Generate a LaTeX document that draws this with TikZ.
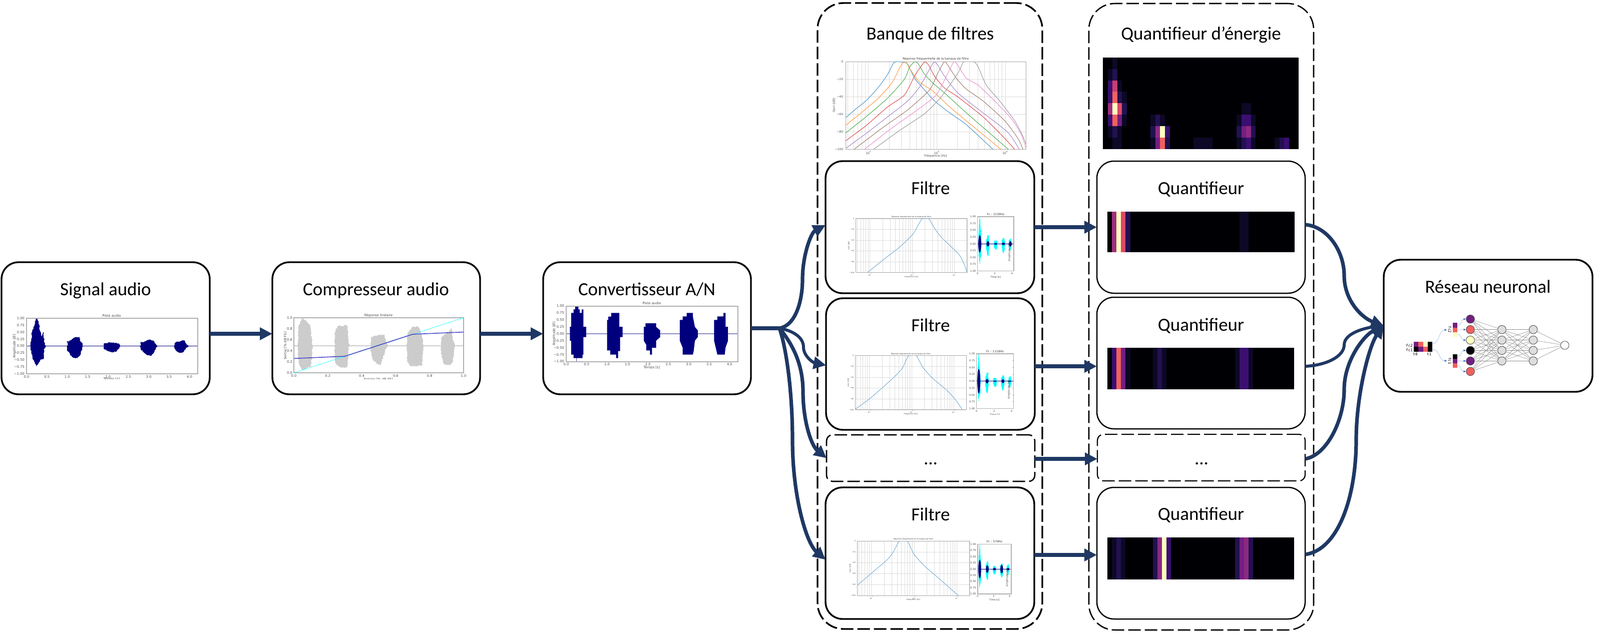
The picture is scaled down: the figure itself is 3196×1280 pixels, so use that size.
\documentclass[tikz,border=0pt]{standalone}
\usepackage{fontspec}
\setmainfont{Carlito}
\newfontfamily\mplfont{DejaVu Sans}
\newfontfamily\monof{DejaVu Sans Mono}
\usetikzlibrary{arrows.meta,decorations.pathmorphing}
\definecolor{conn}{HTML}{1F3864}
\definecolor{mA}{HTML}{0C0826}\definecolor{mB}{HTML}{221150}\definecolor{mC}{HTML}{3B0F70}
\definecolor{mD}{HTML}{721F81}\definecolor{mE}{HTML}{8C2981}\definecolor{mF}{HTML}{9E2F7F}
\definecolor{mG}{HTML}{C83E73}\definecolor{mH}{HTML}{DE4968}\definecolor{mI}{HTML}{F1605D}
\definecolor{mJ}{HTML}{FCFDBF}\definecolor{mK}{HTML}{000004}
\definecolor{wavenavy}{HTML}{00007F}\definecolor{wavecyan}{HTML}{00FFFF}
\definecolor{axg}{HTML}{B0B0B0}\definecolor{gridc}{HTML}{DCDCDC}
\definecolor{tabA}{HTML}{4C93C4}\definecolor{tabB}{HTML}{FF9A3C}\definecolor{tabC}{HTML}{4CAF4C}
\definecolor{tabD}{HTML}{DC4A4A}\definecolor{tabE}{HTML}{A585C8}\definecolor{tabF}{HTML}{A17A70}
\definecolor{tabG}{HTML}{E98FD0}\definecolor{tabH}{HTML}{999999}
\definecolor{nnblue}{HTML}{4472C4}\definecolor{nnsoft}{HTML}{A9C4E8}
\tikzset{
 bx/.style={draw=black,fill=white,rounded corners=17pt,line width=1.7pt,outer sep=0pt,inner sep=0pt,minimum width=208pt,minimum height=132pt},
 qbx/.style={bx,line width=1.25pt},
 dashbx/.style={draw=black,rounded corners=26pt,line width=1.7pt,outer sep=0pt,inner sep=0pt,dash pattern=on 12.5pt off 4pt},
 dotbx/.style={draw=black,fill=white,rounded corners=6pt,line width=1.3pt,outer sep=0pt,inner sep=0pt,dash pattern=on 12.5pt off 4pt,minimum width=208pt,minimum height=46.5pt},
 title/.style={font=\fontsize{18.5}{20}\selectfont,inner sep=0pt,anchor=base},
 link/.style={draw=conn,line width=3.6pt,-{Triangle[length=12.5pt,width=12pt]}},
 stem/.style={draw=conn,line width=3.6pt},
 tick/.style={inner sep=0pt,font=\mplfont\fontsize{3.4}{4}\selectfont,text=black!70},
 axis/.style={draw=axg,line width=1pt},
 nncirc/.style={circle,draw=black!70,line width=.45pt,minimum size=8.3pt,inner sep=0pt,outer sep=0pt},
 nnedge/.style={draw=black!45,line width=.3pt},
 nnarrow/.style={draw=nnsoft,line width=.4pt,-{Latex[length=2.6pt,width=2.4pt,color=nnblue]}},
 cv/.style={line width=.5pt},
 rough/.style={decorate,decoration={random steps,segment length=1.1pt,amplitude=.55pt}},
 roughsm/.style={decorate,decoration={random steps,segment length=.9pt,amplitude=.3pt}},
}
\newcommand\sigwave{
 (.1,.05)--(.12,.2)--(.13,.5)--(.17,.65)--(.2,.8)--(.23,1)--(.27,1)--(.3,.8)--(.33,.55)--(.36,.38)--(.38,.35)--(.4,.5)--(.42,.5)--(.43,.15)--(.47,.02)--(.47,-.02)--(.43,-.1)--(.42,-.47)--(.38,-.48)--(.34,-.5)--(.3,-.6)--(.27,-.68)--(.24,-.74)--(.22,-.65)--(.18,-.55)--(.14,-.38)--(.12,-.2)--(.1,-.05)--cycle
 (1,.17)--(1.05,.17)--(1.12,.25)--(1.2,.32)--(1.3,.32)--(1.33,.15)--(1.38,.05)--(1.38,-.03)--(1.34,-.2)--(1.3,-.36)--(1.25,-.44)--(1.15,-.42)--(1.08,-.34)--(1.02,-.2)--(1,-.17)--cycle
 (1.9,.1)--(2,.12)--(2.2,.12)--(2.27,.08)--(2.3,0)--(2.27,-.1)--(2.2,-.2)--(2.1,-.22)--(2,-.18)--(1.9,-.1)--cycle
 (2.8,.15)--(2.85,.14)--(2.95,.2)--(3.05,.23)--(3.12,.18)--(3.18,.05)--(3.22,0)--(3.18,-.05)--(3.12,-.25)--(3.05,-.35)--(2.95,-.32)--(2.85,-.2)--(2.8,-.1)--cycle
 (3.63,.08)--(3.67,.15)--(3.75,.15)--(3.85,.2)--(3.88,.2)--(3.93,.05)--(3.98,0)--(3.93,-.05)--(3.85,-.22)--(3.75,-.24)--(3.68,-.18)--(3.63,-.08)--cycle
}
\newcommand\adcwave{
 (.09,.25)--(.12,.25)--(.12,.75)--(.18,.75)--(.18,.875)--(.22,.875)--(.22,1)--(.3,1)--(.3,.875)--(.33,.875)--(.33,.75)--(.38,.75)--(.38,.875)--(.42,.875)--(.42,.25)--(.49,.25)--(.49,-.12)--(.42,-.12)--(.42,-.75)--(.4,-.75)--(.4,-.875)--(.26,-.875)--(.26,-1)--(.25,-1)--(.25,-.875)--(.18,-.875)--(.18,-.75)--(.12,-.75)--(.12,-.25)--(.09,-.25)--cycle
 (1,.5)--(1.03,.5)--(1.03,.62)--(1.1,.62)--(1.1,.75)--(1.3,.75)--(1.3,.25)--(1.38,.25)--(1.38,-.12)--(1.32,-.12)--(1.32,-.625)--(1.27,-.625)--(1.27,-.875)--(1.22,-.875)--(1.22,-.75)--(1.08,-.75)--(1.08,-.6)--(1,-.6)--cycle
 (1.9,.25)--(1.94,.25)--(1.94,.375)--(2.2,.375)--(2.2,.25)--(2.3,.12)--(2.3,-.12)--(2.2,-.25)--(2.2,-.5)--(2.1,-.5)--(2.1,-.75)--(2.05,-.75)--(2.05,-.6)--(1.96,-.6)--(1.96,-.4)--(1.9,-.25)--cycle
 (2.78,.5)--(2.85,.5)--(2.85,.625)--(2.95,.625)--(2.95,.75)--(3.1,.75)--(3.1,.625)--(3.15,.25)--(3.22,.12)--(3.22,-.12)--(3.15,-.25)--(3.12,-.625)--(3.1,-.75)--(2.85,-.75)--(2.85,-.5)--(2.78,-.25)--cycle
 (3.62,.5)--(3.7,.5)--(3.7,.625)--(3.85,.625)--(3.85,.75)--(3.9,.75)--(3.9,.25)--(3.96,.25)--(3.96,-.25)--(3.9,-.5)--(3.88,-.75)--(3.7,-.75)--(3.66,-.5)--(3.62,-.25)--cycle
}
\newcommand\waveaxes[1]{
 \draw[axis] (0,-1) rectangle (4.2,1);
 \foreach \v/\l [count=\n] in {1/1.00,.75/0.75,.5/0.50,.25/0.25,0/0.00,-.25/−0.25,-.5/−0.50,-.75/−0.75,-1/−1.00}
   \node[tick,anchor=east] (#1y\n) at (-.045,\v) {\l};
 \foreach \v/\l [count=\n] in {0/0.0,.5/0.5,1/1.0,1.5/1.5,2/2.0,2.5/2.5,3/3.0,3.5/3.5,4/4.0}
   \node[tick] (#1x\n) at (\v,-1.105) {\l};
}
% frequency-response axes: name,x0,x1,y0,y1,fontsize,grid width
\newcommand\lplot[7]{
 \pgfmathsetmacro\pW{#3-#2}\pgfmathsetmacro\pH{#5-#4}
 \foreach \lg in {1.699,1.778,1.845,1.903,1.954,2,2.301,2.477,2.602,2.699,2.778,2.845,2.903,2.954,3,3.301,3.477,3.602,3.699,3.778,3.845,3.903,3.954,4,4.301}{
   \pgfmathsetmacro\gx{#2+(\lg-1.664)/2.636*\pW}
   \draw[gridc,line width=#7] (\gx,#4)--(\gx,#5);}
 \foreach \v [count=\n] in {0,20,40,60,80,100}{
   \pgfmathsetmacro\gy{#4+\pH*(\v/100)}
   \draw[gridc,line width=#7] (#2,\gy)--(#3,\gy);
   \node[inner sep=0pt,anchor=east,font=\mplfont\fontsize{#6}{#6}\selectfont,text=black!70] (#1y\n) at ({#2-1.5*#6},\gy) {\ifnum\v=0 0\else −\v\fi};}
 \foreach \e in {2,3,4}{
   \pgfmathsetmacro\gx{#2+(\e-1.664)/2.636*\pW}
   \node[inner sep=0pt,font=\mplfont\fontsize{#6}{#6}\selectfont,text=black!70] (#1x\e) at (\gx,{#5+2.3*#6}) {10\textsuperscript{\e}};}
 \pgfmathsetmacro\cx{(#2+#3)/2}
 \node[inner sep=0pt,font=\mplfont\fontsize{#6}{#6}\selectfont,text=black!75] (#1t) at (\cx,{#4-1.9*#6}) {Réponse fréquentielle de la banque de filtre};
 \node[inner sep=0pt,font=\mplfont\fontsize{#6}{#6}\selectfont,text=black!70] (#1xl) at (\cx,{#5+4.7*#6}) {Fréquence [Hz]};
 \pgfmathsetmacro\cy{(#4+#5)/2}
 \node[inner sep=0pt,rotate=90,font=\mplfont\fontsize{#6}{#6}\selectfont,text=black!70] (#1yl) at ({#2-7.7*#6},\cy) {Gain [dB]};
 \draw[draw=black!35,line width=.4pt] (#2,#4) rectangle (#3,#5);
}
\newcommand\lcurve[5]{
 \pgfmathsetmacro\pW{(#2-#1)*.5}\pgfmathsetmacro\pH{(#4-#3)*.5}
 \begin{scope}[shift={(#1,#3)},x=\pW pt,y=-\pH pt]
  \clip (0,0) rectangle (1,1);
  \draw[tabA!75,line width=.5pt] plot[smooth,tension=.45] coordinates {#5};
 \end{scope}
}
\newcommand\rplot[8]{
 \pgfmathsetmacro\pW{(#3-#2)*.5/4.2}\pgfmathsetmacro\pH{(#5-#4)*.25}
 \pgfmathsetmacro\mY{(#4+#5)/2}\pgfmathsetmacro\cX{(#2+#3)/2}
 \foreach \k in {0,...,6}{\pgfmathsetmacro\gy{#4+(#5-#4)*(\k+1)/8}\draw[black!60,line width=.5pt] (#3,\gy)--(#3-1,\gy);}
 \begin{scope}
  \clip (#2,#5+1) rectangle (#3,#4);
  \begin{scope}[shift={(#2,\mY)},x=\pW pt,y=\pH pt]
   \fill[wavecyan,roughsm] \sigwave;
   \foreach \t/\a in {#7}{\fill[wavenavy] (\t,0) ellipse [x radius=.17,y radius=\a];}
   \draw[wavenavy,line width=.5pt] (0,0)--(4.2,0);
  \end{scope}
 \end{scope}
 \draw[axis,line width=.6pt] (#2,#4) rectangle (#3,#5);
 \foreach \l [count=\n] in {1.00,0.75,0.50,0.25,0.00,0.25,0.50,0.75,1.00}{
   \pgfmathsetmacro\gy{#4+(#5-#4)*(\n-1)/8}
   \node[inner sep=0pt,anchor=east,font=\mplfont\fontsize{2.5}{3}\selectfont,text=black!75] (#1y\n) at (#2-3,\gy) {\l};}
 \foreach \v in {0,2,4}{
   \pgfmathsetmacro\gx{#2+(#3-#2)*\v/4.2}
   \node[inner sep=0pt,font=\mplfont\fontsize{2.5}{3}\selectfont,text=black!75] (#1x\v) at (\gx,#5+5) {\v};}
 \node[inner sep=0pt,font=\mplfont\fontsize{2.9}{3}\selectfont,text=black!80] (#1t) at (\cX,#4-5) {#6};
 \node[inner sep=0pt,rotate=90,font=\mplfont\fontsize{2.6}{3}\selectfont,text=black!70] (#1ov) at ({#2+(#3-#2)*.88},\mY+17) {Amplitude [Ø]};
 \begin{scope}
  \clip (#2-20,#5+5) rectangle (#3+20,#8);
  \node[inner sep=0pt,font=\mplfont\fontsize{2.5}{3}\selectfont,text=black!75] (#1xl) at (\cX,#5+12) {Time [s]};
 \end{scope}
}
\newcommand\stripmap[5]{
 \fill[mK] (#1,#2) rectangle (#3,#4);
 \foreach \c/\k in {#5}{\fill[\k] ({#1+\c*9.1},#2) rectangle ({#1+(\c+1)*9.1},#4);}
}
\begin{document}
\begin{tikzpicture}[x=.5pt,y=-.5pt]
\useasboundingbox (0,0) rectangle (3196,1280);
\fill[white] (0,0) rectangle (3196,1280);
% containers
\node[dashbx,minimum width=224.5pt,minimum height=625.5pt] (bank) at (1857.5,631.5) {};
\node[dashbx,line width=1.3pt,minimum width=224.5pt,minimum height=626pt] (quant) at (2399.5,633) {};
% boxes
\node[bx] (sig) at (211,656) {};
\node[bx,minimum width=207.5pt] (comp) at (751.5,656) {};
\node[bx,minimum width=207.5pt] (conv) at (1292.5,656) {};
\node[bx,minimum width=208.5pt] (net) at (2972.5,651) {};
\node[bx,minimum width=208.5pt] (f1) at (1857.5,454) {};
\node[bx,minimum width=208.5pt,minimum height=131.5pt] (f2) at (1858.5,727.5) {};
\node[dotbx] (fd) at (1859,915.5) {};
\node[bx,minimum width=208.5pt,minimum height=131.5pt] (f3) at (1857.5,1105.5) {};
\node[qbx] (q1) at (2399,454) {};
\node[qbx,minimum height=131.5pt] (q2) at (2399,725.5) {};
\node[dotbx,line width=1.1pt,minimum width=207.5pt] (qd) at (2399.5,914.5) {};
\node[qbx,minimum height=131.5pt] (q3) at (2399,1105.5) {};
% titles
\node[title] (tsig) at (211,590) {Signal audio};
\node[title] (tcomp) at (751,590) {Compresseur audio};
\node[title] (tconv) at (1292,590) {Convertisseur A/N};
\node[title] (tnet) at (2972,585) {Réseau neuronal};
\node[title] (tbank) at (1858,79) {Banque de filtres};
\node[title] (tquant) at (2399,79) {Quantifieur d’énergie};
\node[title] (tf1) at (1859,388) {Filtre};
\node[title] (tf2) at (1859,662) {Filtre};
\node[title] (tf3) at (1859,1040) {Filtre};
\node[title] (tfd) at (1859,928) {...};
\node[title] (tq1) at (2399,388) {Quantifieur};
\node[title] (tq2) at (2399,661) {Quantifieur};
\node[title] (tq3) at (2399,1039) {Quantifieur};
\node[title] (tqd) at (2400,928) {...};
% ---- signal plot
\begin{scope}[shift={(53,691.5)},x=40.7pt,y=27.65pt]
 \fill[wavenavy,rough] \sigwave;
 \draw[wavenavy,line width=.7pt] (0,0)--(4.2,0);
 \waveaxes{sa}
\end{scope}
\node[tick] (sat) at (223,631) {Piste audio};
\node[tick,rotate=90] (sayl) at (29,692) {Amplitude [Ø]};
\begin{scope}
 \clip (100,754.5) rectangle (350,757.5);
 \node[tick] (saxl) at (223,758) {Temps [s]};
\end{scope}
% ---- compressor plot
\begin{scope}[shift={(540,510)},x=.3125pt,y=-.16667pt]
 \draw[black!20,line width=1pt] (75,543)--(618,543);
 \fill[black!20,rough] (88,540)--(90,425)--(100,385)--(105,378)--(115,395)--(128,425)--(132,500)--(135,540)--(135,545)--(130,665)--(110,685)--(100,685)--(90,640)--(88,560)--cycle
 (206,540)--(207,460)--(215,425)--(245,420)--(248,480)--(250,530)--(258,543)--(250,550)--(247,670)--(235,675)--(215,665)--(207,640)--(206,560)--cycle
 (320,540)--(322,490)--(345,480)--(365,475)--(370,520)--(377,543)--(370,560)--(352,660)--(340,650)--(325,620)--(320,570)--cycle
 (436,540)--(438,470)--(455,428)--(475,430)--(485,490)--(490,543)--(485,660)--(450,668)--(438,640)--(436,560)--cycle
 (545,540)--(548,490)--(570,460)--(580,430)--(583,500)--(590,540)--(583,640)--(575,660)--(555,655)--(547,610)--cycle;
\end{scope}
\begin{scope}[shift={(587,745)},x=169.5pt,y=55pt]
 \draw[axis,line width=.6pt] (0,0) rectangle (1,1);
 \draw[wavecyan,line width=.8pt,densely dotted] (0,0)--(1,1);
 \draw[black!30!blue!70,line width=.8pt] (0,.26)--(.3,.3)--(.7,.7)--(1,.74);
 \foreach \v [count=\n] in {0.0,0.2,0.4,0.6,0.8,1.0}{
  \node[tick,anchor=east] (cpy\n) at (-.008,\v) {\v};
  \node[tick] (cpx\n) at (\v,-.055) {\v};}
\end{scope}
\node[tick] (cpt) at (756,630) {Réponse linéaire};
\node[tick,rotate=90] (cpyl) at (570,691) {Sortie [\% dB FS]};
\begin{scope}
 \clip (650,754.5) rectangle (860,757.5);
 \node[tick] (cpxl) at (756,758) {Entrée [\% dB FS]};
\end{scope}
% ---- ADC plot
\begin{scope}[shift={(1131,667)},x=40.8pt,y=27.75pt]
 \draw[wavenavy!45,line width=1.1pt] (0,0)--(4.2,0);
 \fill[wavenavy] \adcwave;
 \waveaxes{ad}
\end{scope}
\node[tick] (adt) at (1302,606) {Piste audio};
\node[tick,rotate=90] (adyl) at (1107,667) {Amplitude [Ø]};
\node[tick] (adxl) at (1302,735) {Temps [s]};
% ---- bank plot
\lplot{bk}{1689}{2049}{123}{298}{3}{.5pt}
\begin{scope}[shift={(1630,0)},x=.16667pt,y=-.19763pt]
 \clip (178,312) rectangle (1258,755);
 \draw[tabA,cv] plot[smooth,tension=.4] coordinates {(178,595)(240,550)(305,505)(375,440)(430,375)(465,318)(495,312)(530,316)(550,325)(590,395)(640,445)(710,510)(800,570)(900,630)(1060,755)};
 \draw[tabB,cv] plot[smooth,tension=.4] coordinates {(178,634)(300,550)(375,495)(430,445)(465,405)(500,345)(525,314)(540,312)(560,345)(620,415)(700,460)(800,540)(1000,680)(1108,755)};
 \draw[tabC,cv] plot[smooth,tension=.4] coordinates {(178,672)(300,590)(430,495)(530,400)(560,340)(590,313)(610,320)(650,375)(700,420)(770,470)(900,570)(1050,680)(1152,755)};
 \draw[tabD,cv] plot[smooth,tension=.4] coordinates {(178,712)(300,635)(430,540)(530,480)(590,385)(625,340)(652,313)(675,330)(710,385)(770,445)(850,490)(1000,590)(1120,690)(1190,755)};
 \draw[tabE,cv] plot[smooth,tension=.4] coordinates {(178,750)(300,675)(430,590)(550,510)(620,440)(680,350)(708,313)(730,330)(770,385)(850,470)(1000,570)(1150,670)(1218,755)};
 \draw[tabF,cv] plot[smooth,tension=.4] coordinates {(228,755)(400,645)(550,555)(680,455)(730,370)(768,313)(790,330)(840,395)(900,450)(1000,510)(1130,610)(1210,700)(1240,755)};
 \draw[tabG,cv] plot[smooth,tension=.4] coordinates {(290,755)(450,650)(600,560)(720,480)(790,370)(826,313)(850,330)(900,395)(970,430)(1070,510)(1170,600)(1230,680)(1258,750)};
 \draw[tabH,cv] plot[smooth,tension=.4] coordinates {(345,755)(500,660)(650,575)(750,490)(850,370)(885,313)(945,313)(970,335)(1020,430)(1100,510)(1190,610)(1240,690)(1258,730)};
\end{scope}
% ---- filters
\lplot{fa}{1709.3}{1931.7}{436.8}{544.7}{1.8}{.25pt}
\lcurve{1709.3}{1931.7}{436.8}{544.7}{(.105,1)(.243,.77)(.393,.53)(.513,.29)(.558,.128)(.595,.007)(.61,0)(.655,0)(.693,.128)(.753,.31)(.843,.495)(.933,.68)(.977,.86)(1,1)}
\rplot{ra}{1952.7}{2025}{433}{541.6}{Fc : 2159Hz}{.25/.32,1.2/.1,2.1/.03,3/.05,3.8/.1}{560}
\lplot{fb}{1708.3}{1930.3}{710.4}{818.8}{1.8}{.25pt}
\lcurve{1708.3}{1930.3}{710.4}{818.8}{(0,.99)(.128,.8)(.248,.588)(.368,.362)(.428,.218)(.465,.053)(.488,0)(.548,0)(.608,.218)(.698,.424)(.818,.63)(.893,.794)(.961,.99)}
\rplot{rb}{1950.7}{2024.3}{707}{816.6}{Fc : 1118Hz}{.25/.45,1.2/.08,2.1/.02,3/.07,3.8/.02}{828.5}
\lplot{fc}{1712}{1936.7}{1081}{1190}{1.8}{.25pt}
\lcurve{1712}{1936.7}{1081}{1190}{(0,.816)(.123,.6)(.272,.336)(.324,.193)(.361,.05)(.38,0)(.443,0)(.473,.11)(.51,.254)(.6,.459)(.748,.725)(.899,1)}
\rplot{rc}{1953}{2020}{1087.6}{1187}{Fc : 579Hz}{.25/.37,1.2/.15,2.1/.05,3/.17,3.8/.05}{1210}
% ---- big heatmap
\fill[mK] (2203,115) rectangle (2594,297.6);
\begin{scope}[shift={(2203,115)},x=4.768pt,y=-11.41pt]
 \foreach \c/\r/\k in {2/0/mA,2/1/mB,2/2/mG,2/3/mI,2/4/mJ,2/5/mI,2/6/mB,2/7/mA,1/1/mA,1/2/mC,1/3/mC,1/4/mF,1/5/mC,1/6/mA,3/2/mA,3/3/mB,3/4/mH,3/5/mD,3/6/mA,3/7/mA,4/3/mA,4/4/mB,4/5/mA,
 10/5/mA,11/5/mB,12/5/mA,10/6/mB,11/6/mE,12/6/mJ,13/6/mC,10/7/mA,11/7/mD,12/7/mI,13/7/mB,
 19/7/mA,20/7/mA,21/7/mA,22/7/mA,
 29/4/mA,30/4/mA,28/5/mA,29/5/mC,30/5/mC,31/5/mA,28/6/mB,29/6/mD,30/6/mE,31/6/mB,28/7/mA,29/7/mB,30/7/mC,31/7/mA,
 36/7/mA,37/7/mB,38/7/mC}
  {\fill[\k] (\c,\r) rectangle +(1,1);}
\end{scope}
% ---- strips
\stripmap{2212}{423}{2586}{504}{1/mF,2/mJ,3/mH,4/mB,29/mA,30/mA}
\stripmap{2212}{695}{2585}{778}{1/mC,2/mI,3/mD,4/mA,10/mA,11/mB,12/mA,28/mA,29/mC,30/mC,31/mA}
\stripmap{2212}{1074}{2585}{1158}{1/mA,2/mB,3/mA,10/mB,11/mE,12/mJ,13/mC,28/mB,29/mD,30/mE,31/mB}
% ---- neural network
\begin{scope}[shift={(2760,510)},x=.16667pt,y=-.16667pt]
 \foreach \i/\yy/\k in {1/383/mD,2/446/mI,3/509/mJ,4/571/mK,5/634/mD,6/697/mI}
   \node[nncirc,fill=\k] (na\i) at (531,\yy) {};
 \foreach \i/\yy in {1/446,2/509,3/571,4/634}{
   \node[nncirc,fill=black!13] (nb\i) at (720,\yy) {};
   \node[nncirc,fill=black!13] (nc\i) at (908,\yy) {};}
 \node[nncirc,fill=white] (nd) at (1097,540) {};
 \foreach \i in {1,...,6}\foreach \j in {1,...,4}\draw[nnedge] (na\i)--(nb\j);
 \foreach \i in {1,...,4}\foreach \j in {1,...,4}\draw[nnedge] (nb\i)--(nc\j);
 \foreach \i in {1,...,4}\draw[nnedge] (nc\i)--(nd);
 \foreach \c/\r/\k in {0/0/mD,1/0/mI,2/0/mJ,3/0/mK,0/1/mK,1/1/mD,2/1/mI,3/1/mK}
   \fill[\k] (192+\c*27.75,518+\r*30) rectangle +(27.75,30);
 \foreach \yy/\k in {406/mD,434/mI,461/mJ,594/mK,621/mD,648/mI}
   \fill[\k] (426,\yy) rectangle +(28,28);
 \node[inner sep=0pt,anchor=east,font=\monof\fontsize{3.8}{4}\selectfont] (lfc2) at (187,541) {fc2};
 \node[inner sep=0pt,anchor=east,font=\monof\fontsize{3.8}{4}\selectfont] (lfc1) at (187,570) {fc1};
 \node[inner sep=0pt,font=\monof\fontsize{3.8}{4}\selectfont] (lt0) at (201,594) {t0};
 \node[inner sep=0pt,font=\monof\fontsize{3.8}{4}\selectfont] (lt1) at (284,594) {t1};
 \node[inner sep=0pt,rotate=-90,font=\monof\fontsize{3.8}{4}\selectfont] (rfc2) at (408,445) {fc2};
 \node[inner sep=0pt,rotate=-90,font=\monof\fontsize{3.8}{4}\selectfont] (rfc1) at (408,633) {fc1};
 \coordinate (ha) at (303,532); \coordinate (hb) at (303,564);
 \coordinate (sa) at (392,448); \coordinate (sb) at (392,633);
 \draw[nnarrow] (ha) .. controls (350,525) and (340,448) .. (sa);
 \draw[nnarrow] (hb) .. controls (350,565) and (340,633) .. (sb);
 \foreach \yy/\i/\ty in {420/1/383,447/2/446,475/3/509,607/4/571,634/5/634,662/6/697}{
   \coordinate (st\i) at (454,\yy);
   \draw[nnarrow] (st\i) .. controls (482,\yy) and (472,\ty) .. (na\i.west);}
\end{scope}
% ---- connectors
\coordinate (split) at (1557,656);
\draw[link] ([yshift=-5.5pt]sig.east)--([yshift=-5.5pt]comp.west);
\draw[link] ([yshift=-5.5pt]comp.east)--([yshift=-5.5pt]conv.west);
\draw[stem] (conv.east)--(split);
\draw[link] (split) .. controls (1590,650) and (1603,600) .. (1603,558) .. controls (1603,510) and (1620,465) .. ([yshift=2pt]f1.west);
\draw[link,line width=3pt] (split) .. controls (1580,660) and (1605,672) .. (1605,694) .. controls (1605,712) and (1625,725) .. ([yshift=-1.25pt]f2.west);
\draw[link] (split) .. controls (1585,690) and (1604,730) .. (1604,783) .. controls (1604,840) and (1620,890) .. (fd.west);
\draw[link] (split) .. controls (1572,700) and (1583,790) .. (1583,880) .. controls (1583,990) and (1610,1085) .. ([yshift=-6.5pt]f3.west);
\draw[link] (f1.east)--(q1.west);
\draw[link] ([yshift=-2.25pt]f2.east)--([yshift=-3.25pt]q2.west);
\draw[link] ([yshift=-.75pt]fd.east)--([yshift=-1.25pt]qd.west);
\draw[link] ([yshift=-1.75pt]f3.east)--([yshift=-1.75pt]q3.west);
\draw[link] ([yshift=2.5pt]q1.east) .. controls (2650,452) and (2685,500) .. (2685,551) .. controls (2685,600) and (2720,635) .. (net.west);
\draw[link,line width=3pt] ([yshift=-3.25pt]q2.east) .. controls (2650,730) and (2685,712) .. (2685,689) .. controls (2685,665) and (2730,655) .. (net.west);
\draw[link] ([yshift=-1.25pt]qd.east) .. controls (2650,910) and (2685,840) .. (2685,778) .. controls (2685,720) and (2725,670) .. (net.west);
\draw[link] ([yshift=-1.25pt]q3.east) .. controls (2670,1100) and (2709,1000) .. (2709,878) .. controls (2709,790) and (2735,690) .. (net.west);
\end{tikzpicture}
\end{document}
